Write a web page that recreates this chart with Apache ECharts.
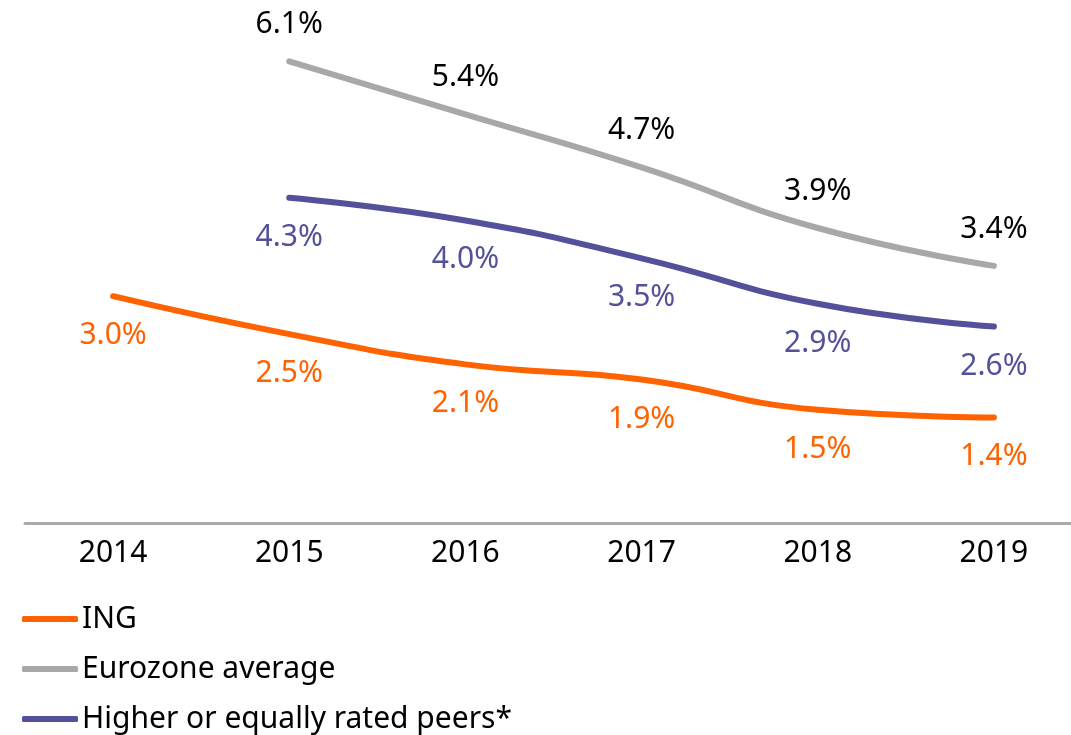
<!DOCTYPE html>
<html>
<head>
<meta charset="utf-8">
<script src="https://cdn.jsdelivr.net/npm/echarts@6/dist/echarts.min.js"></script>
<style>
html,body{margin:0;padding:0;background:#fff;}
#chart{width:1071px;height:735px;}
</style>
</head>
<body>
<div id="chart"></div>
<script>
const categories = ['2014','2015','2016','2017','2018','2019'];
const ingValues = [3.0, 2.5, 2.1, 1.9, 1.5, 1.4];
const eurozoneValues = [null, 6.1, 5.4, 4.7, 3.9, 3.4];
const peersValues = [null, 4.3, 4.0, 3.5, 2.9, 2.6];
const seriesNames = ['ING', 'Eurozone average', 'Higher or equally rated peers*'];
const seriesColors = ['#FF6200', '#A8A8A8', '#525199'];

const FONT = 'Noto Sans';
const chart = echarts.init(document.getElementById('chart'), null, {renderer: 'canvas'});

function labelFmt(p) { return p.value == null ? '' : Number(p.value).toFixed(1) + '%'; }

function makeSeries(name, data, color, labelColor, pos, dist) {
  return {
    name: name, type: 'line', data: data, smooth: true,
    symbol: 'circle', symbolSize: 1, showSymbol: true,
    itemStyle: {color: color, opacity: 0},
    lineStyle: {color: color, width: 6, cap: 'round'},
    label: {show: true, position: pos, distance: dist, color: labelColor, fontSize: 30, fontFamily: FONT, formatter: labelFmt, opacity: 1},
    emphasis: {disabled: true}
  };
}

chart.setOption({
  animation: false,
  textStyle: {fontFamily: FONT},
  grid: {left: 25, width: 1057, top: 31, bottom: 211.5, containLabel: false, outerBoundsMode: 'none'},
  xAxis: {
    type: 'category',
    data: categories,
    boundaryGap: true,
    axisLine: {show: true, lineStyle: {color: '#AAAAAA', width: 3}},
    axisTick: {show: false},
    axisLabel: {color: '#000', fontSize: 30, fontFamily: FONT, margin: 15}
  },
  yAxis: {
    type: 'value', min: 0, max: 6.5,
    show: false,
    splitLine: {show: false}
  },
  legend: {
    orient: 'vertical',
    left: 22, top: 603, height: 132,
    padding: 0,
    itemWidth: 56, itemHeight: 6, itemGap: 18,
    icon: 'roundRect',
    itemStyle: {opacity: 1},
    textStyle: {fontSize: 30, color: '#000', fontFamily: FONT, lineHeight: 32, padding: [0,0,0,-1]},
    data: seriesNames.map((n, i) => ({name: n, itemStyle: {color: seriesColors[i], opacity: 1}}))
  },
  series: [
    makeSeries(seriesNames[0], ingValues, seriesColors[0], '#FF6200', 'bottom', 24),
    makeSeries(seriesNames[1], eurozoneValues, seriesColors[1], '#000000', 'top', 21),
    makeSeries(seriesNames[2], peersValues, seriesColors[2], '#525199', 'bottom', 24)
  ]
});
</script>
</body>
</html>
